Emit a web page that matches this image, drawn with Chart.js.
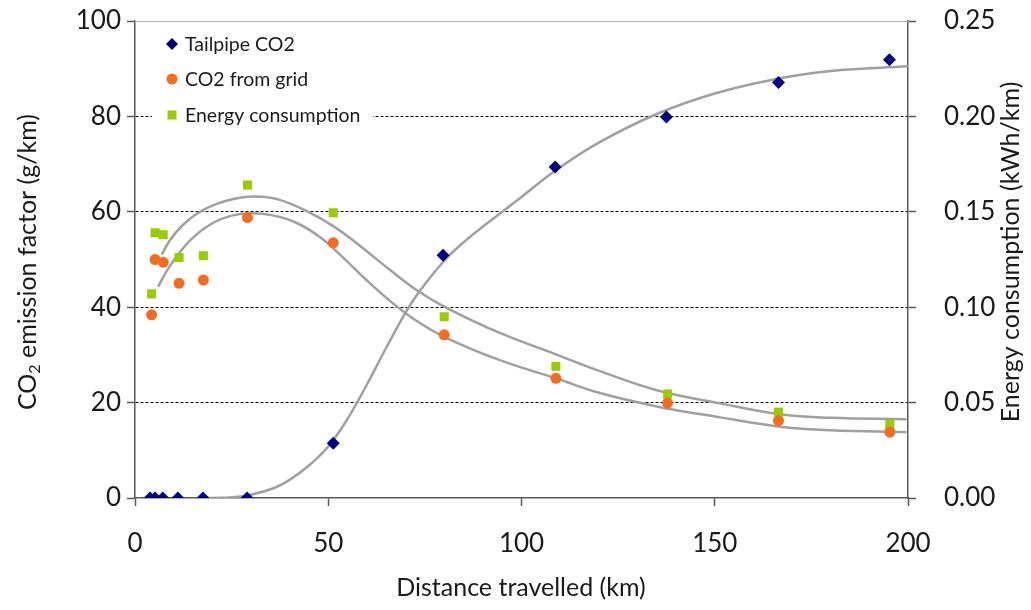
<!DOCTYPE html>
<html>
<head>
<meta charset="utf-8">
<script src="https://cdn.jsdelivr.net/npm/chart.js@4"></script>
<style>
  html, body { margin: 0; padding: 0; background: #fff; }
</style>
</head>
<body>
<canvas id="co2Chart" width="1031" height="610"></canvas>
<script>
// Measured points (distance in km)
const tailpipeDist = [3.9, 5.2, 7.2, 11.1, 17.6, 29.0, 51.3, 79.7, 108.7, 137.5, 166.5, 195.2];
const tailpipeCO2 = [0, 0, 0, 0, 0, 0, 11.5, 50.9, 69.4, 79.9, 87.1, 91.9];

const gridDist = [4.3, 5.2, 7.3, 11.4, 17.7, 29.1, 51.3, 80.0, 108.9, 137.8, 166.5, 195.3];
const gridCO2 = [38.4, 50.0, 49.4, 45.0, 45.7, 58.8, 53.5, 34.2, 25.1, 19.9, 16.2, 13.8];

const energyDist = [4.3, 5.2, 7.3, 11.4, 17.7, 29.1, 51.3, 80.0, 108.9, 137.8, 166.5, 195.3];
const energyUse = [0.107, 0.139, 0.138, 0.126, 0.127, 0.164, 0.1495, 0.095, 0.069, 0.0545, 0.045, 0.0386];

// Trend curves
const tailTrendX = [17, 24, 30, 36, 40, 45, 50, 55, 60, 65, 70.7, 75, 80.2, 85, 90, 100, 108.7, 120, 135, 150, 165, 180, 200];
const tailTrendY = [0, 0.1, 0.7, 2.1, 3.8, 6.8, 10.8, 16.6, 23.8, 31.5, 39.8, 44.8, 49.9, 53.6, 56.9, 63.1, 68.6, 74.5, 80.5, 84.8, 87.7, 89.5, 90.5];

const gridTrendX = [6, 8, 11, 15, 20, 25, 30, 36, 42, 48, 54, 60, 66, 72, 80, 94.4, 108.9, 120.3, 135, 151.4, 166.4, 180, 199.6];
const gridTrendY = [44.3, 47.3, 50.9, 54.6, 57.6, 59.2, 59.7, 59.2, 57.6, 54.6, 50.3, 45.6, 41.3, 37.6, 33.8, 28.9, 25.1, 22.0, 19.2, 16.9, 15.0, 14.2, 13.8];

const energyTrendX = [6.9, 9, 12, 16, 21, 26, 31, 37, 44.8, 51.3, 58, 66, 73.7, 80.6, 94.4, 108.9, 120.3, 135, 151.4, 166.4, 180, 199.6];
const energyTrendY = [0.1275, 0.135, 0.1423, 0.149, 0.154, 0.157, 0.158, 0.1565, 0.150, 0.1425, 0.1325, 0.1195, 0.1078, 0.0997, 0.0865, 0.0753, 0.0665, 0.0565, 0.0496, 0.0440, 0.0420, 0.0413];

// Tick values
const xTicks = [0, 50, 100, 150, 200];
const leftTicks = [0, 20, 40, 60, 80, 100];
const rightTicks = [0, 0.05, 0.10, 0.15, 0.20, 0.25];

const legendNames = ["Tailpipe CO2", "CO2 from grid", "Energy consumption"];
const navy = "#000080";
const orange = "#F36C21";
const lime = "#99CC00";
const trendGrey = "#a0a0a0";
const axisGrey = "#595959";
const fontName = "Lato";

function toPoints(xs, ys) {
  return xs.map((x, i) => ({ x: x, y: ys[i] }));
}

// Draws axis titles, top border and the boxed legend
const extrasPlugin = {
  id: "extras",
  afterDatasetsDraw(chart) {
    const ctx = chart.ctx;
    const area = chart.chartArea;
    ctx.save();
    // top border of plot area
    ctx.strokeStyle = "#b4b4b4";
    ctx.lineWidth = 1;
    ctx.beginPath();
    ctx.moveTo(area.left, area.top + 0.5);
    ctx.lineTo(area.right, area.top + 0.5);
    ctx.stroke();

    // legend box
    ctx.fillStyle = "#fff";
    ctx.fillRect(152, 28, 221, 102);
    const rows = [44, 79, 115];
    const colors = [navy, orange, lime];
    ctx.font = "19.5px " + fontName;
    ctx.textBaseline = "middle";
    ctx.textAlign = "left";
    rows.forEach((y, i) => {
      ctx.fillStyle = colors[i];
      ctx.beginPath();
      if (i === 0) {
        ctx.moveTo(172, y - 6); ctx.lineTo(178, y); ctx.lineTo(172, y + 6); ctx.lineTo(166, y);
        ctx.closePath(); ctx.fill();
      } else if (i === 1) {
        ctx.arc(172, y, 5.5, 0, Math.PI * 2); ctx.fill();
      } else {
        ctx.fillRect(167.5, y - 4.5, 9, 9);
      }
      ctx.fillStyle = "#1a1a1a";
      ctx.fillText(legendNames[i], 185, y + 1);
    });

    // axis titles
    ctx.fillStyle = "#1a1a1a";
    ctx.font = "25px " + fontName;
    ctx.textAlign = "center";
    ctx.textBaseline = "middle";
    ctx.fillText("Distance travelled (km)", 521, 588);

    // left title with subscript 2
    ctx.save();
    ctx.translate(28, 262);
    ctx.rotate(-Math.PI / 2);
    const big = "25px " + fontName;
    const small = "16px " + fontName;
    ctx.font = big;
    const w1 = ctx.measureText("CO").width;
    const w3 = ctx.measureText(" emission factor (g/km)").width;
    ctx.font = small;
    const w2 = ctx.measureText("2").width;
    let start = -(w1 + w2 + w3) / 2;
    ctx.textAlign = "left";
    ctx.font = big;
    ctx.fillText("CO", start, 0);
    ctx.font = small;
    ctx.fillText("2", start + w1, 7);
    ctx.font = big;
    ctx.fillText(" emission factor (g/km)", start + w1 + w2, 0);
    ctx.restore();

    // right title
    ctx.save();
    ctx.translate(1011, 252);
    ctx.rotate(-Math.PI / 2);
    ctx.textAlign = "center";
    ctx.font = big;
    ctx.fillText("Energy consumption (kWh/km)", 0, 0);
    ctx.restore();

    ctx.restore();
  }
};

new Chart("co2Chart", {
  type: "scatter",
  data: {
    datasets: [
      {
        label: legendNames[0],
        data: toPoints(tailpipeDist, tailpipeCO2),
        yAxisID: "y",
        pointStyle: "rectRot",
        pointRadius: 6.5,
        backgroundColor: navy,
        borderColor: navy,
        borderWidth: 0,
      },
      {
        label: legendNames[1],
        data: toPoints(gridDist, gridCO2),
        yAxisID: "y",
        pointStyle: "circle",
        pointRadius: 5.5,
        backgroundColor: orange,
        borderColor: orange,
        borderWidth: 0,
      },
      {
        label: legendNames[2],
        data: toPoints(energyDist, energyUse),
        yAxisID: "y2",
        pointStyle: "rect",
        pointRadius: 6.4,
        backgroundColor: lime,
        borderColor: lime,
        borderWidth: 0,
      },
      // trend lines, drawn under the markers
      {
        data: toPoints(tailTrendX, tailTrendY),
        yAxisID: "y",
        showLine: true,
        pointRadius: 0,
        borderColor: trendGrey,
        borderWidth: 2.5,
        tension: 0.4,
      },
      {
        data: toPoints(gridTrendX, gridTrendY),
        yAxisID: "y",
        showLine: true,
        pointRadius: 0,
        borderColor: trendGrey,
        borderWidth: 2.5,
        tension: 0.4,
      },
      {
        data: toPoints(energyTrendX, energyTrendY),
        yAxisID: "y2",
        showLine: true,
        pointRadius: 0,
        borderColor: trendGrey,
        borderWidth: 2.5,
        tension: 0.4,
      },
    ],
  },
  options: {
    responsive: false,
    animation: false,
    devicePixelRatio: 1,
    layout: { padding: { top: 21, left: 0, right: 0, bottom: 0 } },
    plugins: {
      legend: { display: false },
      tooltip: { enabled: false },
    },
    scales: {
      x: {
        type: "linear",
        min: 0,
        max: 200,
        afterBuildTicks: (s) => { s.ticks = xTicks.map((v) => ({ value: v })); },
        afterFit: (s) => { s.height = 112; s.paddingLeft = 0; s.paddingRight = 0; },
        ticks: { font: { family: fontName, size: 26 }, color: "#1a1a1a", padding: 22 },
        grid: { drawOnChartArea: false, tickLength: 8, tickColor: axisGrey, tickWidth: 1.5 },
        border: { color: axisGrey, width: 1.5 },
      },
      y: {
        position: "left",
        min: 0,
        max: 100,
        afterBuildTicks: (s) => { s.ticks = leftTicks.map((v) => ({ value: v })); },
        afterFit: (s) => { s.width = 135; s.paddingTop = 0; s.paddingBottom = 0; },
        ticks: { font: { family: fontName, size: 26 }, color: "#1a1a1a", padding: 6 },
        grid: {
          color: (c) => (c.tick && c.tick.value > 0 && c.tick.value < 100 ? "#000" : "rgba(0,0,0,0)"),
          lineWidth: 1,
          tickLength: 8,
          tickColor: axisGrey,
          tickWidth: 1.5,
          tickBorderDash: [],
        },
        border: { color: axisGrey, width: 1.5, dash: [3, 2] },
      },
      y2: {
        position: "right",
        min: 0,
        max: 0.25,
        afterBuildTicks: (s) => { s.ticks = rightTicks.map((v) => ({ value: v })); },
        afterFit: (s) => { s.width = 123; s.paddingTop = 0; s.paddingBottom = 0; },
        ticks: {
          font: { family: fontName, size: 26 },
          color: "#1a1a1a",
          padding: 28,
          callback: (v) => Number(v).toFixed(2),
        },
        grid: { drawOnChartArea: false, tickLength: 8, tickColor: axisGrey, tickWidth: 1.5 },
        border: { color: axisGrey, width: 1.5 },
      },
    },
  },
  plugins: [extrasPlugin],
});
</script>
</body>
</html>
